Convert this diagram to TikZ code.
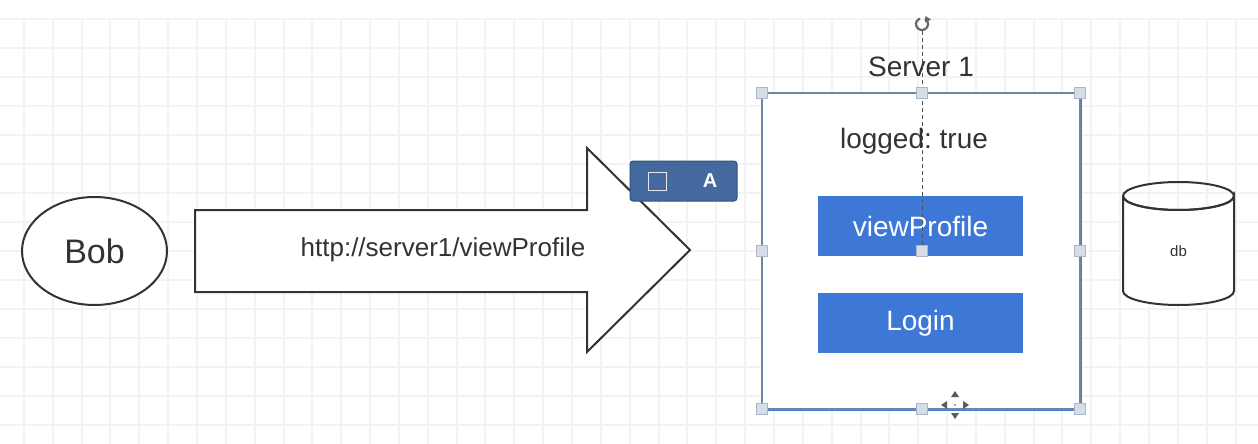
\documentclass[tikz,border=0pt]{standalone}
\usepackage{fontspec}
\setmainfont{Liberation Sans}
\usetikzlibrary{shapes.geometric}
\definecolor{txt}{HTML}{333333}
\definecolor{gridc}{HTML}{F1F3F6}
\definecolor{btn}{HTML}{3D78D6}
\definecolor{tip}{HTML}{44699F}
\definecolor{tipb}{HTML}{34537F}
\definecolor{selc}{HTML}{6F85A3}
\definecolor{hfill}{HTML}{D5DDE7}
\definecolor{hdraw}{HTML}{A9B7C8}
\tikzset{
  shape line/.style={draw=txt, line width=2pt},
  lbl/.style={text=txt, inner sep=0pt},
  button/.style={fill=btn, draw=none, minimum width=205pt, minimum height=60pt, text=white, inner sep=0pt, font=\fontsize{28}{32}\selectfont},
  handle/.style={fill=hfill, draw=hdraw, line width=0.8pt, minimum size=11pt, inner sep=0pt},
  movetri/.style={fill=txt!80, draw=none},
}
\frenchspacing
\begin{document}
\begin{tikzpicture}[x=1pt,y=-1pt]
\useasboundingbox (0,0) rectangle (1258,444);
\fill[white] (0,0) rectangle (1258,444);
% grid
\foreach \i in {0,...,44} {
  \draw[gridc, line width=1.5pt] ({round(-5+28.85*\i)},18) -- ({round(-5+28.85*\i)},444);
}
\foreach \j in {0,...,15} {
  \draw[gridc, line width=1.5pt] (0,{round(18.5+29*\j)}) -- (1258,{round(18.5+29*\j)});
}
% Bob
\node[ellipse, shape line, fill=white, minimum width=145pt, minimum height=108pt, inner sep=0pt,
  font=\fontsize{34}{38}\selectfont, text=txt] (bob) at (94.5,251) {Bob};
% big arrow
\coordinate (a1) at (195,210);
\coordinate (a2) at (587,210);
\coordinate (a3) at (587,148);
\coordinate (tipp) at (690,250);
\coordinate (a5) at (587,352);
\coordinate (a6) at (587,292);
\coordinate (a7) at (195,292);
\draw[shape line, fill=white, line join=miter] (a1) -- (a2) -- (a3) -- (tipp) -- (a5) -- (a6) -- (a7) -- cycle;
\node[lbl, font=\fontsize{26}{30}\selectfont] (url) at (443,250) {http://server1/viewProfile};
% tooltip toolbar
\node[fill=tip, draw=tipb, line width=1pt, rounded corners=3pt, minimum width=107pt, minimum height=40pt, inner sep=0pt] (bar) at (683.5,181) {};
\node[draw=white!85!tip, line width=1.4pt, minimum size=18pt, inner sep=0pt] (sq) at (657.5,181.5) {};
\node[text=white, inner sep=0pt, font=\fontsize{20}{24}\selectfont\bfseries] (A) at (710,181) {A};
% server box
\node[draw=selc, line width=2.6pt, fill=white, minimum width=318pt, minimum height=316pt, inner sep=0pt] (server) at (921,251) {};
\draw[btn!80!selc, line width=1.2pt] (server.south west) -- (server.south east) -- (server.north east);
\node[lbl, font=\fontsize{28}{32}\selectfont] (title) at (921,67) {Server 1};
\node[lbl, font=\fontsize{28}{32}\selectfont] (logged) at (914,141) {logged: true};
\node[button] (view) at (920.5,226) {viewProfile};
\node[button] (login) at (920.5,323) {Login};
% rotation handle and dashed guide
\coordinate (rot) at (922,24);
\draw[txt!75, line width=2.2pt] (rot) ++(60:6pt) arc[start angle=60, end angle=-250, radius=6pt];
\fill[txt!75] (925.5,16) -- (931,19.5) -- (925,22.5) -- cycle;
\coordinate (gtop) at (922,31);
\coordinate (gbot) at (922,251);
\draw[txt!85, line width=1pt, dash pattern=on 4pt off 3pt] (gtop) -- (gbot);
% selection handles
\foreach \n/\p in {h1/{(762,93)}, h2/{(922,93)}, h3/{(1080,93)}, h4/{(762,251)}, h5/{(1080,251)}, h6/{(762,409)}, h7/{(922,409)}, h8/{(1080,409)}, h9/{(922,251)}} {
  \node[handle] (\n) at \p {};
}
% move icon
\coordinate (mv) at (955,405);
\fill[movetri] (955,391) -- (951,397) -- (959,397) -- cycle;
\fill[movetri] (955,419) -- (951,413) -- (959,413) -- cycle;
\fill[movetri] (941,405) -- (947,401) -- (947,409) -- cycle;
\fill[movetri] (969,405) -- (963,401) -- (963,409) -- cycle;
\fill[txt!60] (mv) circle (1.2pt);
% db cylinder
\coordinate (dbtl) at (1123,196);
\coordinate (dbtr) at (1234,196);
\coordinate (dbbl) at (1123,291);
\coordinate (dbbr) at (1234,291);
\draw[shape line, fill=white] (dbtl) -- (dbbl) arc[start angle=180, end angle=360, x radius=55.5pt, y radius=14pt] -- (dbtr) arc[start angle=0, end angle=-180, x radius=55.5pt, y radius=14pt];
\draw[shape line] (1178.5,196) ellipse[x radius=55.5pt, y radius=14pt];
\node[lbl, font=\fontsize{15}{18}\selectfont] (db) at (1178.5,251) {db};
\end{tikzpicture}
\end{document}
